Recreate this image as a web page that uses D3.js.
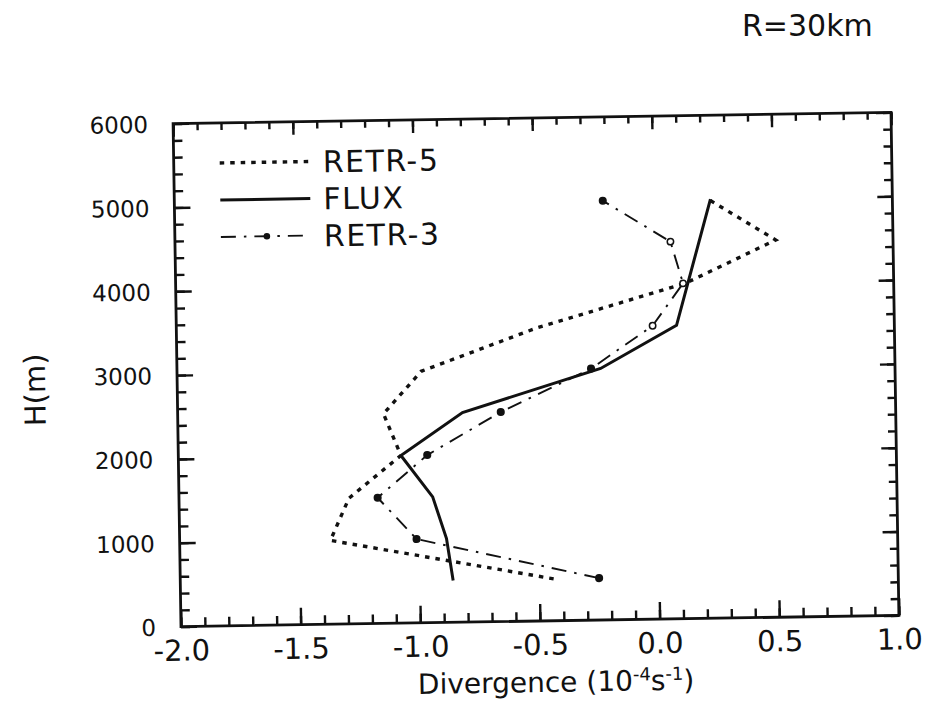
<!DOCTYPE html>
<html><head><meta charset="utf-8">
<script src="https://cdn.jsdelivr.net/npm/d3@7"></script>
<style>
body{margin:0;background:#fff}
svg{display:block}
text{font-family:"DejaVu Sans",sans-serif;fill:#111}
</style>
</head><body>
<script>
// ---- data ----
const seriesNames = ["RETR-5", "FLUX", "RETR-3"];
const heights = [500, 1000, 1500, 2000, 2500, 3000, 3500, 4000, 4500, 5000];
const retr5 = [-0.44, -1.37, -1.29, -1.07, -1.14, -0.98, -0.49, 0.13, 0.51, 0.23];
const retr3 = [-0.25, -1.01, -1.17, -0.96, -0.65, -0.27, -0.01, 0.12, 0.07, -0.21];
const fluxHeights = [500, 1000, 1500, 2000, 2500, 3000, 3500, 5000];
const flux = [-0.86, -0.885, -0.94, -1.07, -0.81, -0.23, 0.09, 0.24];
const retr3OpenHeights = [3500, 4000, 4500];
const xTickValues = [-2.0, -1.5, -1.0, -0.5, 0.0, 0.5, 1.0];
const xTickLabels = ["-2.0", "-1.5", "-1.0", "-0.5", "0.0", "0.5", "1.0"];
const yTickValues = [0, 1000, 2000, 3000, 4000, 5000, 6000];
const yTickLabels = ["0", "1000", "2000", "3000", "4000", "5000", "6000"];

// ---- layout ----
const W = 927, H = 713;
const svg = d3.select("body").append("svg").attr("width", W).attr("height", H);
svg.append("rect").attr("width", W).attr("height", H).attr("fill", "#fff");

const cx = 536.25, cy = 369.5;
const g = svg.append("g").attr("transform", `rotate(-0.9,${cx},${cy})`);
const L = 177, R = 895, T = 118, B = 621;

const x = d3.scaleLinear().domain([-2, 1]).range([L, R]);
const y = d3.scaleLinear().domain([0, 6000]).range([B, T]);
const xMinor = x.ticks(30);
const yMinor = y.ticks(30);

function clean(sel){ sel.select(".domain").remove(); sel.selectAll("line").attr("stroke","#111").attr("stroke-width",2.4); }

// bottom
g.append("g").attr("transform",`translate(0,${B})`)
  .call(d3.axisBottom(x).tickValues(xMinor).tickSize(-9).tickFormat("")).call(clean);
const bx = g.append("g").attr("transform",`translate(0,${B})`)
  .call(d3.axisBottom(x).tickValues(xTickValues).tickSize(-17)
    .tickFormat((d,i)=>xTickLabels[i])).call(clean);
bx.selectAll("text").attr("y",34).attr("dy",0).style("font-size","29px")
  .attr("font-family","DejaVu Sans").attr("fill","#111");
// top
g.append("g").attr("transform",`translate(0,${T})`)
  .call(d3.axisTop(x).tickValues(xMinor).tickSize(-7).tickFormat("")).call(clean);
g.append("g").attr("transform",`translate(0,${T})`)
  .call(d3.axisTop(x).tickValues(xTickValues).tickSize(-13).tickFormat("")).call(clean);
// left
g.append("g").attr("transform",`translate(${L},0)`)
  .call(d3.axisLeft(y).tickValues(yMinor).tickSize(-9).tickFormat("")).call(clean);
const ly = g.append("g").attr("transform",`translate(${L},0)`)
  .call(d3.axisLeft(y).tickValues(yTickValues).tickSize(-16)
    .tickFormat((d,i)=>yTickLabels[i])).call(clean);
ly.selectAll("text").attr("x",-25).attr("dy","0.36em").style("font-size","23px")
  .attr("font-family","DejaVu Sans").attr("fill","#111");
// right
g.append("g").attr("transform",`translate(${R},0)`)
  .call(d3.axisRight(y).tickValues(yMinor).tickSize(-8).tickFormat("")).call(clean);
g.append("g").attr("transform",`translate(${R},0)`)
  .call(d3.axisRight(y).tickValues(yTickValues).tickSize(-15).tickFormat("")).call(clean);

// frame
g.append("rect").attr("x",L).attr("y",T).attr("width",R-L).attr("height",B-T)
  .attr("fill","none").attr("stroke","#111").attr("stroke-width",2.8);

// ---- series ----
const line = d3.line().x(d=>x(d[0])).y(d=>y(d[1]));
const r5 = retr5.map((v,i)=>[v,heights[i]]);
const r3 = retr3.map((v,i)=>[v,heights[i]]);
const fl = flux.map((v,i)=>[v,fluxHeights[i]]);

const styles = {
  "RETR-5": {w:3.4, dash:"4.5,6"},
  "FLUX":   {w:3.0, dash:null},
  "RETR-3": {w:1.9, dash:"15,8,2.5,8"}
};
function drawPath(data, name){
  const s = styles[name];
  g.append("path").datum(data).attr("d",line).attr("fill","none")
    .attr("stroke","#111").attr("stroke-width",s.w)
    .attr("stroke-linejoin","miter")
    .attr("stroke-dasharray",s.dash);
}
drawPath(r5,"RETR-5");
drawPath(fl,"FLUX");
drawPath(r3,"RETR-3");

g.selectAll("circle.m").data(r3).enter().append("circle").attr("class","m")
  .attr("cx",d=>x(d[0])).attr("cy",d=>y(d[1]))
  .attr("r",d=>retr3OpenHeights.includes(d[1])?3.2:3.3)
  .attr("fill",d=>retr3OpenHeights.includes(d[1])?"#fff":"#111")
  .attr("stroke","#111").attr("stroke-width",1.5);

// ---- legend ----
const legX0 = 223, legX1 = 313, legY0 = 158, legDY = 37;
seriesNames.forEach((name,i)=>{
  const s = styles[name];
  const yy = legY0 + i*legDY;
  g.append("line").attr("x1",legX0).attr("x2",legX1).attr("y1",yy).attr("y2",yy)
    .attr("stroke","#111").attr("stroke-width",s.w).attr("stroke-dasharray",s.dash);
  if(name==="RETR-3"){
    g.append("circle").attr("cx",legX0+46).attr("cy",yy).attr("r",3.3).attr("fill","#111");
  }
  g.append("text").attr("x",legX1+13).attr("y",yy+11).text(name)
    .style("font-size","30px").style("letter-spacing","1.5px");
});

// ---- axis titles ----
const xt = g.append("text").attr("x",413).attr("y",692).style("font-size","28px");
xt.append("tspan").text("Divergence (10");
xt.append("tspan").attr("dy",-10).style("font-size","18px").text("-4");
xt.append("tspan").attr("dy",10).text("s");
xt.append("tspan").attr("dy",-10).style("font-size","18px").text("-1");
xt.append("tspan").attr("dy",10).text(")");

g.append("text").attr("transform","translate(45,382) rotate(-90)")
  .attr("text-anchor","middle").style("font-size","29px").text("H(m)");

svg.append("text").attr("x",742).attr("y",36).style("font-size","30px").text("R=30km");
</script>
</body></html>
